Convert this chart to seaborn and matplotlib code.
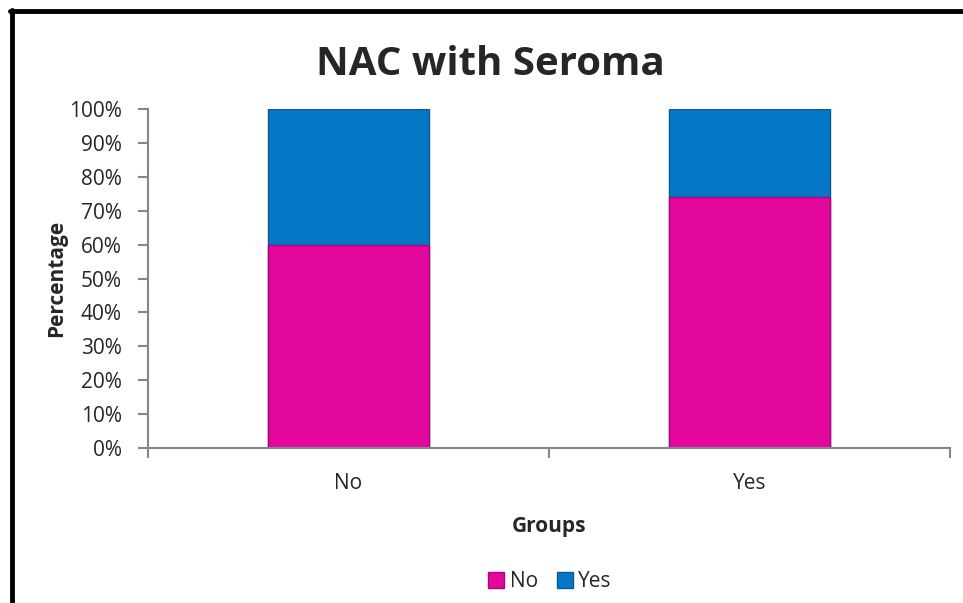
import numpy as np
import pandas as pd
import matplotlib
matplotlib.use("Agg")
import matplotlib.pyplot as plt
import seaborn as sns
from matplotlib.patches import Patch
from matplotlib.lines import Line2D
from matplotlib.ticker import PercentFormatter, FixedLocator

# Dados
groups = ["No", "Yes"]
pct_no = [60, 74]
pct_yes = [40, 26]

df = pd.DataFrame({"Groups": groups, "No": pct_no, "Yes": pct_yes})
df["Total"] = df["No"] + df["Yes"]

sns.set_style("white")
plt.rcParams["font.family"] = ["Open Sans", "DejaVu Sans"]

c_no = "#E4079C"
c_yes = "#0676C6"
grey = "#868686"
fs = 15

fig = plt.figure(figsize=(9.63, 6.03), dpi=100)
ax = fig.add_axes([0.1537, 0.257, 0.8328, 0.5622])

# empilhado: total em azul, "No" por cima em magenta
sns.barplot(data=df, x="Groups", y="Total", color=c_yes, width=0.4, saturation=1,
            edgecolor="#0A5A94", linewidth=1, ax=ax)
sns.barplot(data=df, x="Groups", y="No", color=c_no, width=0.4, saturation=1,
            edgecolor="#A8067A", linewidth=1, ax=ax)

ax.set_ylim(0, 100)
ax.set_xlim(-0.5, 1.5)
ax.set_yticks(np.arange(0, 101, 10))
ax.yaxis.set_major_formatter(PercentFormatter(decimals=0))
ax.xaxis.set_minor_locator(FixedLocator([-0.5, 0.5, 1.5]))
ax.tick_params(axis="x", which="major", length=0, pad=18, labelsize=fs)
ax.tick_params(axis="x", which="minor", bottom=True, length=7, width=1.5,
               color=grey, direction="out")
ax.tick_params(axis="y", left=True, length=7, width=1.5, color=grey,
               direction="out", labelsize=fs, pad=12)
sns.despine(ax=ax)
for s in ["left", "bottom"]:
    ax.spines[s].set_color(grey)
    ax.spines[s].set_linewidth(1.5)

ax.set_xlabel("Groups", fontsize=fs, fontweight="bold", labelpad=16)
ax.set_ylabel("Percentage", fontsize=fs, fontweight="bold", labelpad=1)
fig.text(0.509, 0.893, "NAC with Seroma", ha="center", va="center",
         fontsize=29, fontweight="bold")

handles = [Patch(facecolor=c_no, edgecolor="#A8067A", label="No"),
           Patch(facecolor=c_yes, edgecolor="#0A5A94", label="Yes")]
fig.legend(handles=handles, loc="center", bbox_to_anchor=(0.571, 0.035), ncol=2,
           frameon=False, fontsize=fs, handlelength=0.8, handleheight=0.8,
           handletextpad=0.25, columnspacing=0.9)

# moldura (esquerda e topo)
fig.add_artist(Line2D([0.0125, 0.0125], [0, 0.983], color="black", lw=3.5,
                      transform=fig.transFigure))
fig.add_artist(Line2D([0.0105, 1.0], [0.982, 0.982], color="black", lw=3.5,
                      transform=fig.transFigure))

fig.savefig("out.png", dpi=100)
